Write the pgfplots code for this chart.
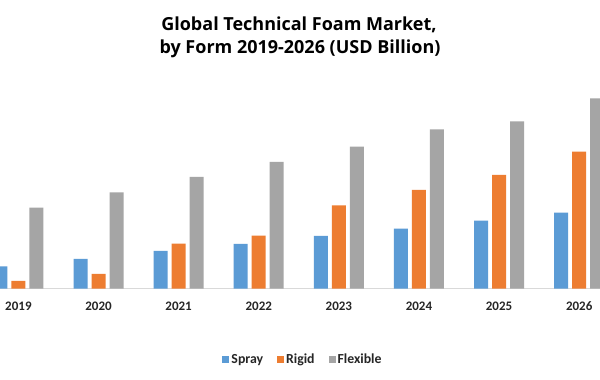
\documentclass[border=0pt]{standalone}
\usepackage{pgfplots}
\pgfplotsset{compat=1.18}
\usepackage{fontspec}
\setmainfont{Carlito}
\newfontfamily\titlefont{Open Sans}
\definecolor{cspray}{HTML}{5B9BD5}
\definecolor{crigid}{HTML}{ED7D31}
\definecolor{cflex}{HTML}{A5A5A5}
\begin{document}
\begin{tikzpicture}[x=1pt,y=1pt]
\useasboundingbox (0,0) rectangle (600,380);
\clip (0,0) rectangle (600,380);
\fill[white] (0,0) rectangle (600,380);
\node[font=\titlefont\bfseries\fontsize{18}{22}\selectfont, anchor=base, inner sep=0pt] at (299,349) {Global Technical Foam Market,};
\node[font=\titlefont\bfseries\fontsize{18}{22}\selectfont, anchor=base, inner sep=0pt] at (300,326) {by Form 2019-2026 (USD Billion)};
\begin{axis}[
  at={(0,91.3)}, anchor=south west,
  scale only axis, width=600pt, height=209pt,
  xmin=-0.23, xmax=7.26, ymin=0, ymax=209,
  ybar, bar width=14pt,
  axis y line=none,
  axis x line*=bottom,
  x axis line style={draw=black!15, line width=0.75pt, -},
  xtick={0,1,2,3,4,5,6,7},
  xticklabels={2019,2020,2021,2022,2023,2024,2025,2026},
  major tick length=0pt,
  xticklabel style={font=\bfseries\fontsize{13}{15}\selectfont, text=black!85, yshift=-9.5pt},
  legend style={at={(0.505,-0.339)}, anchor=center, draw=none, fill=none,
    legend columns=3, font=\bfseries\fontsize{13.8}{15}\selectfont, text=black!85,
    /tikz/every even column/.append style={column sep=12pt}},
  legend image code/.code={\fill[#1] (0pt,-3.5pt) rectangle (7pt,3.5pt);},
]
\addplot[fill=cspray, draw=none, bar shift=-18pt] coordinates {(0,22.4) (1,29.7) (2,37.7) (3,44.7) (4,52.7) (5,60) (6,68) (7,76)};
\addplot[fill=crigid, draw=none, bar shift=0pt] coordinates {(0,7.7) (1,14.7) (2,45) (3,53) (4,83.4) (5,98.7) (6,113.7) (7,137)};
\addplot[fill=cflex, draw=none, bar shift=18pt] coordinates {(0,81) (1,96.4) (2,111.7) (3,126.7) (4,142) (5,159.4) (6,167.4) (7,190.4)};
\legend{Spray,Rigid,Flexible}
\end{axis}
\end{tikzpicture}
\end{document}
